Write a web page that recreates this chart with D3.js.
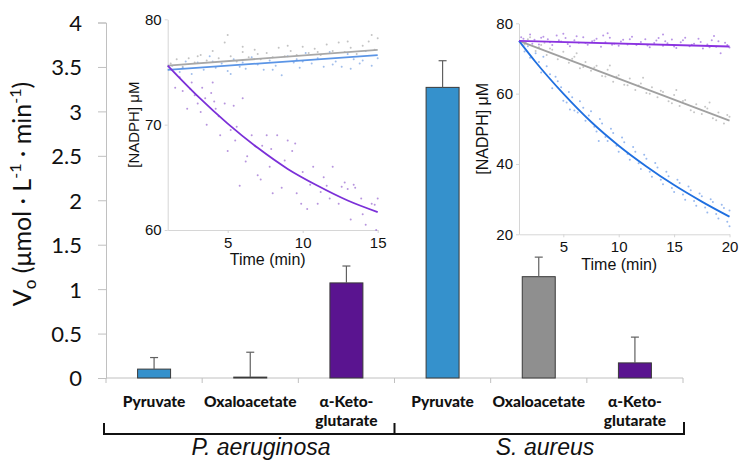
<!DOCTYPE html>
<html><head><meta charset="utf-8">
<script src="https://cdn.jsdelivr.net/npm/d3@7"></script>
<style>body{margin:0;background:#fff}svg{display:block}</style>
</head><body>
<svg id="c" width="748" height="472"></svg>
<script>
// ---------- DATA ----------
const substrates = ["Pyruvate", "Oxaloacetate", "α-Keto-glutarate"];
const organisms = ["P. aeruginosa", "S. aureus"];
const paValues = [0.10, 0.01, 1.07];
const paErrors = [0.13, 0.28, 0.19];
const saValues = [3.27, 1.14, 0.17];
const saErrors = [0.30, 0.22, 0.29];
const yTicks = [0, 0.5, 1, 1.5, 2, 2.5, 3, 3.5, 4];

// Inset 1 (P. aeruginosa) kinetics
const in1XTicks = [5, 10, 15];
const in1YTicks = [60, 70, 80];
const in1GrayFit = [[1, 75.6], [15, 77.1]];
const in1BlueFit = [[1, 75.2], [15, 76.6]];
const in1PurpleFit = [[1, 75.6], [3, 72.7], [5, 70.1], [7, 67.8], [9, 65.8], [11, 64.2], [13, 62.8], [15, 61.7]];
const in1PurpleDots = [[1.5,73.5],[2,73.2],[2.3,71.5],[2.6,74],[3,72],[3.3,73.5],[3.6,70],[3.9,73],[4.2,71.5],[4.5,69],[4.8,72],[5.2,69.5],[5.5,68.5],[5.8,64.2],[6,72.5],[6.3,67],[6.6,69],[7,65.2],[7.3,68],[7.6,69],[8,63.5],[8.3,69],[8.6,64],[9,68.5],[9.3,67.5],[9.6,63.5],[10,65.5],[10.3,62],[10.7,66],[11,62.5],[11.4,65],[11.8,63],[12,66],[12.4,62.5],[12.8,64.5],[13.2,61],[13.5,64],[13.9,63],[14.2,60.5],[14.6,62.5],[14.9,60],[15,63],[2.8,72.8],[4,74],[5.4,71.8],[7.8,66],[9.9,62.5],[11.6,64.2],[13,63.9],
  [1.8,74.5],[2.5,73.4],[3.2,71.2],[3.5,72.5],[4.1,72.2],[4.4,70.8],[5,67.5],[5.6,69.8],[6.2,66.5],[6.8,68],[7.2,64.8],[7.9,67.7],[8.8,66.6],[9.5,68.2],[10.5,64.3],[11.2,63.6],[12.6,64.1],[13.4,64.3],[14,61.5],[14.8,62.4]];
const in1BlueDots = [[1.3,75.6],[1.8,75],[2.2,76],[2.6,74.8],[3,75.9],[3.4,75.2],[3.8,76.5],[4.2,75.4],[4.6,75.8],[5,75.1],[5.4,76.2],[5.8,75.5],[6.2,75.3],[6.6,76.4],[7,75.7],[7.4,75.2],[7.8,76.1],[8.2,75.6],[8.6,74.7],[9,76.5],[9.4,75.9],[9.8,75.4],[10.2,76.8],[10.6,75.8],[11,76.3],[11.4,75.5],[11.8,76.9],[12.2,76],[12.6,75.5],[13,76.7],[13.4,76.2],[13.8,75.8],[14.2,77],[14.6,75.6],[15,76.3],
  [2,75.4],[4,76],[6,75.9],[8,75.2],[10,76],[12,75.7],[14,76.1],[5.2,74.8],[9.6,76.2],[13.2,75.3]];
const in1GrayDots = [[1.2,75.8],[1.6,76.2],[2,75.5],[2.4,76.3],[2.8,75.9],[3.2,76.6],[3.6,76.1],[4,77],[4.4,76.3],[4.8,77.8],[5.2,76.5],[5.6,76],[6,76.9],[6.4,76.4],[6.8,77.1],[7.2,76.2],[7.6,76.8],[8,76.4],[8.4,77.3],[8.8,76.5],[9.2,77],[9.6,76.6],[10,77.4],[10.4,76.8],[10.8,77.2],[11.2,76.6],[11.6,77.6],[12,77],[12.4,77.8],[12.8,76.9],[13.2,77.3],[13.6,76.7],[14,77.5],[14.4,77.9],[14.8,77.1],[15,78.2],
  [3,76.5],[5,78.5],[7,76.7],[9,77.5],[11,76.9],[13,77.9],[14.6,78.5],[6,77.4]];

// Inset 2 (S. aureus) kinetics
const in2XTicks = [5, 10, 15, 20];
const in2YTicks = [20, 40, 60, 80];
const in2PurpleFit = [[1, 75], [20, 73.4]];
const in2GrayFit = [[1, 75], [20, 52.3]];
const in2BlueFit = [[1, 75], [2.5, 69.0], [5, 60], [7.5, 52.0], [10, 45.2], [12.5, 39.3], [15, 34.0], [17.5, 29.3], [20, 25]];
const in2PurpleDots = [[1.2,76],[1.6,74.5],[2,76.8],[2.4,75.3],[2.8,74],[3.2,76.2],[3.6,75.5],[4,73.8],[4.4,76.5],[4.8,74.8],[5.2,75.8],[5.6,73.5],[6,75.2],[6.4,74.5],[6.8,76],[7.2,73.9],[7.6,74.9],[8,75.6],[8.4,73.3],[8.8,74.6],[9.2,75.9],[9.6,74.2],[10,73.6],[10.4,75.3],[10.8,74],[11.2,76.2],[11.6,73.8],[12,74.7],[12.4,75.5],[12.8,73.2],[13.2,74.4],[13.6,75.8],[14,73.6],[14.4,74.3],[14.8,75.4],[15.2,73],[15.6,74.6],[16,75.9],[16.4,73.5],[16.8,74.2],[17.2,75.6],[17.6,72.8],[18,74],[18.4,75.2],[18.8,73.3],[19.2,71.5],[19.6,74.5],[20,73.1],
  [1.4,75.6],[2.2,74.2],[3,75.9],[3.8,74.6],[4.6,75.2],[5.4,74.1],[6.2,76.3],[7,74.4],[7.8,75.1],[8.6,76.5],[9.4,73.9],[10.2,74.8],[11,75.5],[11.8,74.1],[12.6,73.7],[13.4,75.1],[14.2,74.9],[15,73.4],[15.8,75.2],[16.6,73.9],[17.4,74.7],[18.2,73.2],[19,74.9],[19.8,73.8],[5,77],[9,77.2],[14,76.8],[18.6,76.4]];
const in2GrayDots = [[1.5,74],[2,76],[2.5,72.1],[3,73.8],[3.5,71],[4,72.5],[4.5,69.8],[5,71.9],[5.5,68.8],[6,70.5],[6.5,67.2],[7,69],[7.5,66.5],[8,67.9],[8.5,65],[9,66.8],[9.5,63.4],[10,65.2],[10.5,62.5],[11,64.3],[11.5,61],[12,62.9],[12.5,60.2],[13,61.8],[13.5,59],[14,60.5],[14.5,57.8],[15,59.6],[15.5,56.5],[16,58.2],[16.5,55.3],[17,57],[17.5,54.2],[18,55.8],[18.5,53],[19,54.6],[19.5,51.5],[20,53.4],
  [1.8,75.5],[2.8,73.2],[3.8,72.8],[4.8,70.4],[5.8,69.9],[6.8,67.6],[7.8,67.4],[8.8,64.9],[9.8,64.8],[10.8,62.4],[11.8,62.3],[12.8,60.0],[13.8,60.8],[14.8,57.3],[15.8,57.9],[16.8,54.7],[17.8,56.3],[18.8,52.4],[19.8,53.9],[3.3,74.5],[6.2,71.5],[9.2,68],[12.2,64.5],[15.2,61],[18.2,57.5]];
const in2BlueDots = [[1.5,72],[2,70.2],[2.5,71.5],[3,66],[3.5,67.8],[4,61.5],[4.5,63.5],[5,58],[5.5,60.5],[6,55.2],[6.5,57.8],[7,52.3],[7.5,55],[8,49.2],[8.5,51.5],[9,46.5],[9.5,48.8],[10,43.5],[10.5,46.2],[11,41.2],[11.5,43.5],[12,38.6],[12.5,41.5],[13,36.4],[13.5,39],[14,34.2],[14.5,36.5],[15,32],[15.5,34.6],[16,29.8],[16.5,32.5],[17,28.1],[17.5,30.8],[18,26.2],[18.5,29.2],[19,24.5],[19.5,27.5],[20,22.3],[20,26.8],
  [1.8,73.5],[2.8,69],[3.8,65.5],[4.3,64.8],[4.8,61.8],[5.3,57.5],[5.8,59],[6.3,54.6],[6.8,56],[7.3,53.8],[7.8,50.6],[8.3,52.8],[8.8,47.7],[9.3,50],[9.8,45.2],[10.3,47.5],[10.8,42.8],[11.3,44.8],[11.8,40.2],[12.3,42.6],[12.8,37.8],[13.3,40.3],[13.8,35.5],[14.3,37.8],[14.8,33.2],[15.3,35.5],[15.8,31.3],[16.3,33.6],[16.8,29.5],[17.3,31.6],[17.8,27.6],[18.3,30],[18.8,25.8],[19.3,28.4],[19.8,23.6],[5.6,55.5],[8.2,46.5],[3.2,70.5]];

// ---------- DRAW ----------
const svg = d3.select("#c");
const colors = ["#3591cc", "#8f8f8f", "#5a1490"];
const mainFont = "Lato, 'Open Sans', sans-serif";
const arial = "'Liberation Sans', Arial, sans-serif";

const rows = [];
organisms.forEach((org, gi) => {
  const vals = gi === 0 ? paValues : saValues;
  const errs = gi === 0 ? paErrors : saErrors;
  substrates.forEach((s, si) => rows.push({key: gi + "-" + si, org, sub: s, si, v: vals[si], e: errs[si]}));
});

const x = d3.scaleBand().domain(rows.map(d => d.key)).range([106, 683]).paddingInner(0.657).paddingOuter(0.3285);
const y = d3.scaleLinear().domain([0, 4]).range([378, 22.5]);

// y axis
const yAx = svg.append("g").attr("transform", "translate(106,0)")
  .call(d3.axisLeft(y).tickValues(yTicks).tickSize(8).tickPadding(16).tickFormat(d3.format("~g")));
yAx.select(".domain").attr("stroke", "#c0c0c0");
yAx.selectAll(".tick line").attr("stroke", "#c0c0c0");
yAx.selectAll(".tick text").attr("font-family", mainFont).attr("font-size", 22).attr("fill", "#111").attr("dy", "0.36em");

// x axis baseline + boundary ticks
svg.append("line").attr("x1", 106).attr("x2", 683).attr("y1", y(0)).attr("y2", y(0)).attr("stroke", "#c0c0c0");
const bounds = rows.map(d => x(d.key) - x.step() * x.paddingOuter()).concat([683]);
svg.selectAll(".bt").data(bounds).join("line")
  .attr("x1", d => d).attr("x2", d => d).attr("y1", y(0)).attr("y2", y(0) + 5).attr("stroke", "#c0c0c0");

// bars
svg.selectAll(".bar").data(rows).join("rect")
  .attr("x", d => x(d.key)).attr("width", x.bandwidth())
  .attr("y", d => y(d.v)).attr("height", d => y(0) - y(d.v))
  .attr("fill", d => colors[d.si]).attr("stroke", "#3a3a3a").attr("stroke-width", 1);

// error bars
const eb = svg.selectAll(".eb").data(rows).join("g").attr("stroke", "#606060").attr("stroke-width", 1.2);
eb.append("line").attr("x1", d => x(d.key) + x.bandwidth() / 2).attr("x2", d => x(d.key) + x.bandwidth() / 2)
  .attr("y1", d => y(d.v)).attr("y2", d => y(d.v + d.e));
eb.append("line").attr("x1", d => x(d.key) + x.bandwidth() / 2 - 4).attr("x2", d => x(d.key) + x.bandwidth() / 2 + 4)
  .attr("y1", d => y(d.v + d.e)).attr("y2", d => y(d.v + d.e));

// category labels
const cl = svg.selectAll(".cl").data(rows).join("text")
  .attr("x", d => x(d.key) + x.bandwidth() / 2).attr("y", 407)
  .attr("text-anchor", "middle").attr("font-family", mainFont).attr("font-weight", 900)
  .attr("font-size", 15.5).attr("fill", "#111");
cl.each(function(d) {
  const parts = d.sub.indexOf("-glu") > 0 ? ["α-Keto-", "glutarate"] : [d.sub];
  d3.select(this).selectAll("tspan").data(parts).join("tspan")
    .attr("x", x(d.key) + x.bandwidth() / 2).attr("dy", (p, i) => i === 0 ? 0 : 19).text(p => p);
});

// brackets
const groupEdges = [106, bounds[3], 683];
const bk = svg.append("g").attr("stroke", "#111").attr("stroke-width", 2).attr("fill", "none");
bk.append("path").attr("d", `M${groupEdges[0] - 2},423 L${groupEdges[0] - 2},434 L${groupEdges[2] + 1},434 L${groupEdges[2] + 1},422 M${groupEdges[1]},423 L${groupEdges[1]},434`);
organisms.forEach((org, gi) => {
  svg.append("text").attr("x", gi === 0 ? 261 : 545).attr("y", 455)
    .attr("text-anchor", "middle").attr("font-family", arial).attr("font-style", "italic")
    .attr("font-size", 23).attr("fill", "#111").text(org);
});

// y title
const yt = svg.append("text").attr("transform", "translate(31,194) rotate(-90)")
  .attr("text-anchor", "middle").attr("font-family", mainFont).attr("font-size", 25).attr("fill", "#111");
yt.append("tspan").text("V");
yt.append("tspan").attr("font-size", 17).attr("dy", 5).text("o");
yt.append("tspan").attr("dy", -5).text(" (μmol · L");
yt.append("tspan").attr("font-size", 16).attr("dy", -10).text("-1");
yt.append("tspan").attr("dy", 10).text(" · min");
yt.append("tspan").attr("font-size", 16).attr("dy", -10).text("-1");
yt.append("tspan").attr("dy", 10).text(")");

// ---------- INSETS ----------
function inset(cfg) {
  const g = svg.append("g");
  const ix = d3.scaleLinear().domain(cfg.xd).range(cfg.xr);
  const iy = d3.scaleLinear().domain(cfg.yd).range(cfg.yr);
  const ax = g.append("g").attr("transform", `translate(0,${cfg.yr[0]})`)
    .call(d3.axisBottom(ix).tickValues(cfg.xt).tickSize(3).tickPadding(cfg.xpad).tickSizeOuter(0));
  const ay = g.append("g").attr("transform", `translate(${cfg.xr[0]},0)`)
    .call(d3.axisLeft(iy).tickValues(cfg.yt).tickSize(3).tickPadding(3).tickSizeOuter(0));
  [ax, ay].forEach(a => {
    a.select(".domain").attr("stroke", "#d6d6d6");
    a.selectAll(".tick line").attr("stroke", "#d6d6d6");
    a.selectAll(".tick text").attr("font-family", arial).attr("font-size", 15).attr("fill", "#111");
  });
  g.append("text").attr("x", (cfg.xr[0] + cfg.xr[1]) / 2 - 5).attr("y", cfg.tly).attr("text-anchor", "middle")
    .attr("font-family", arial).attr("font-size", 16).attr("fill", "#111").text("Time (min)");
  g.append("text").attr("transform", `translate(${cfg.ylx},${(cfg.yr[0] + cfg.yr[1]) / 2}) rotate(-90)`)
    .attr("text-anchor", "middle").attr("font-family", arial).attr("font-size", cfg.ylfs).attr("fill", "#111").text("[NADPH] μM");
  cfg.dots.forEach(([data, col]) => {
    g.append("g").selectAll("circle").data(data).join("circle")
      .attr("cx", d => ix(d[0])).attr("cy", d => iy(d[1])).attr("r", 1).attr("fill", col).attr("opacity", 0.8);
  });
  const line = d3.line().x(d => ix(d[0])).y(d => iy(d[1])).curve(d3.curveMonotoneX);
  cfg.fits.forEach(([data, col]) => {
    g.append("path").datum(data).attr("d", line).attr("fill", "none").attr("stroke", col).attr("stroke-width", 1.8);
  });
}

inset({
  xd: [1, 15], xr: [167.7, 377.7], yd: [60, 80], yr: [230, 19.3], xt: in1XTicks, yt: in1YTicks,
  xpad: 4, tly: 265, ylx: 139, ylfs: 15,
  dots: [[in1GrayDots, "#b4b4b4"], [in1BlueDots, "#8aaee6"], [in1PurpleDots, "#a57ad6"]],
  fits: [[in1GrayFit, "#a8a8a8"], [in1BlueFit, "#5b95e6"], [in1PurpleFit, "#7b30d8"]]
});
inset({
  xd: [1, 20], xr: [519, 729.5], yd: [20, 80], yr: [234.3, 23.3], xt: in2XTicks, yt: in2YTicks,
  xpad: 4, tly: 270, ylx: 488, ylfs: 16,
  dots: [[in2GrayDots, "#b8b8b8"], [in2BlueDots, "#7fa8ea"], [in2PurpleDots, "#a77ae0"]],
  fits: [[in2GrayFit, "#a0a0a0"], [in2BlueFit, "#1f6fe0"], [in2PurpleFit, "#8a32e0"]]
});
</script>
</body></html>
